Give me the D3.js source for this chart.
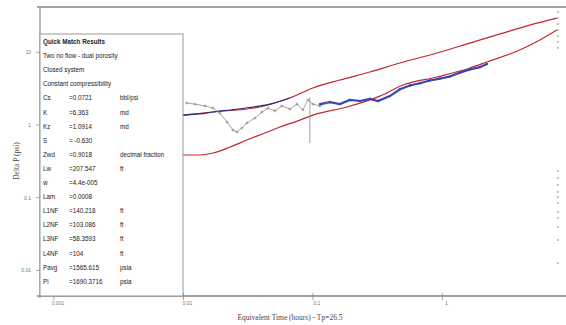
<!DOCTYPE html>
<html>
<head>
<meta charset="utf-8">
<script src="https://cdn.jsdelivr.net/npm/d3@7"></script>
<style>
  body { margin: 0; background: #fff; }
  svg { display: block; }
</style>
</head>
<body>
<svg id="chart" width="566" height="325"></svg>
<script>
// axis ticks
const xTicks = [0.001, 0.01, 0.1, 1];
const yTicks = [10, 1, 0.1, 0.01];

// pressure model (red, upper)
const pModelT = [0.0099, 0.0169, 0.039, 0.0664, 0.1, 0.1617, 0.2755, 0.47, 0.907, 1.63, 2.93, 4.74, 7.66];
const pModelP = [1.37, 1.51, 1.77, 2.35, 3.23, 4.16, 5.36, 7.13, 9.78, 13.4, 18.4, 23.7, 29.6];

// pressure data (navy, early)
const pDataT = [0.0099, 0.0134, 0.0169, 0.0229, 0.0326, 0.0466, 0.0664];
const pDataP = [1.37, 1.42, 1.51, 1.61, 1.74, 1.94, 2.35];

// derivative model (red, lower)
const dModelT = [0.0099, 0.0134, 0.0169, 0.0229, 0.0309, 0.0426, 0.0556, 0.0794, 0.1, 0.183, 0.329, 0.496, 0.907, 1.63, 2.21, 3.96, 5.66, 7.66];
const dModelP = [0.387, 0.387, 0.412, 0.498, 0.622, 0.776, 0.939, 1.17, 1.37, 1.77, 2.5, 3.55, 4.57, 6.08, 7.36, 10.75, 14.8, 20.3];

// early derivative data (gray)
const dEarlyT = [0.0106, 0.0123, 0.01466, 0.0169, 0.0191, 0.0217, 0.0241, 0.0259, 0.0283, 0.0309, 0.0357, 0.0404, 0.0449, 0.0509, 0.0576, 0.0664, 0.0752, 0.0837, 0.0915, 0.1, 0.1133, 0.128];
const dEarlyP = [2.01, 1.94, 1.83, 1.71, 1.46, 1.1, 0.854, 0.8, 0.909, 1.065, 1.248, 1.51, 1.71, 1.56, 1.83, 1.66, 1.94, 1.61, 2.21, 1.94, 1.83, 2.01];

// spike in the early data
const spikeT = [0.0948, 0.0948];
const spikeP = [2.43, 0.565];

// derivative data (blue)
const dDataT = [0.1133, 0.1353, 0.1617, 0.1931, 0.2307, 0.2755, 0.3177, 0.3933, 0.47, 0.561, 0.67, 0.8, 0.956, 1.143, 1.365, 1.63, 1.948, 2.21];
const dDataP = [1.94, 2.07, 1.94, 2.21, 2.14, 2.28, 2.14, 2.5, 3.1, 3.5, 3.75, 4.1, 4.35, 4.65, 5.25, 5.8, 6.25, 6.9];

// last points at the right edge
const endT = 7.8;
const endP = [35.8, 29.6, 24.5, 20.3, 16.8, 13.9, 11.5, 0.233, 0.187, 0.15, 0.12, 0.102, 0.0845, 0.0636, 0.0526, 0.0395, 0.0262, 0.0126];

// legend text
const legendHead = ['Two no flow - dual porosity', 'Closed system', 'Constant compressibility'];
const legendLabels = ['Cs', 'K', 'Kz', 'S', 'Zwd', 'Lw', 'w', 'Lam', 'L1NF', 'L2NF', 'L3NF', 'L4NF', 'Pavg', 'Pi'];
const legendValues = ['=0.0721', '=6.363', '=1.0914', '= -0.630', '=0.9018', '=207.547', '=4.4e-005', '=0.0008', '=140.218', '=103.086', '=58.3593', '=104', '=1565.615', '=1690.3716'];
const legendUnits = ['bbl/psi', 'md', 'md', '', 'decimal fraction', 'ft', '', '', 'ft', 'ft', 'ft', 'ft', 'psia', 'psia'];

const cfg = {
  left: 40, right: 562, top: 7, bottom: 296,
  frame: '#a3a3a3',
  red: '#c4262e',
  navy: '#2b2f7a',
  blue: '#3a45b0',
  gray: '#8c8c8c',
};

const svg = d3.select('#chart');

const x = d3.scaleLog().domain([0.00078, 8.4]).range([cfg.left, cfg.right]);
const y = d3.scaleLog().domain([0.00445, 42]).range([cfg.bottom, cfg.top]);

const zip = (ts, ps) => ts.map((t, i) => [t, ps[i]]);
const line = d3.line().x(d => x(d[0])).y(d => y(d[1]));

// frame
svg.append('line')
  .attr('x1', 37).attr('x2', 566).attr('y1', cfg.top).attr('y2', cfg.top)
  .attr('stroke', cfg.frame).attr('stroke-width', 2);
svg.append('line')
  .attr('x1', 37).attr('x2', 566).attr('y1', cfg.bottom).attr('y2', cfg.bottom)
  .attr('stroke', cfg.frame).attr('stroke-width', 2);
svg.append('line')
  .attr('x1', cfg.left).attr('x2', cfg.left).attr('y1', cfg.top).attr('y2', cfg.bottom + 2)
  .attr('stroke', cfg.frame).attr('stroke-width', 1.5);

// x ticks
const xg = svg.append('g');
xg.selectAll('line').data(xTicks).enter().append('line')
  .attr('x1', d => x(d)).attr('x2', d => x(d))
  .attr('y1', cfg.bottom - 3).attr('y2', cfg.bottom + 4)
  .attr('stroke', '#888').attr('stroke-width', 0.8);
xg.selectAll('text').data(xTicks).enter().append('text')
  .text(d => d3.format('~g')(d))
  .attr('x', d => x(d) + 4).attr('y', 305)
  .attr('text-anchor', 'middle')
  .attr('font-family', 'Liberation Sans, Arial, sans-serif')
  .attr('font-size', 5).attr('fill', '#777');

// y ticks
const yg = svg.append('g');
yg.selectAll('line').data(yTicks).enter().append('line')
  .attr('x1', cfg.left - 4).attr('x2', cfg.left)
  .attr('y1', d => y(d)).attr('y2', d => y(d))
  .attr('stroke', '#888').attr('stroke-width', 0.8);
yg.selectAll('text').data(yTicks).enter().append('text')
  .text(d => d3.format('~g')(d))
  .attr('x', 31).attr('y', d => y(d) + 2)
  .attr('text-anchor', 'end')
  .attr('font-family', 'Liberation Sans, Arial, sans-serif')
  .attr('font-size', 5).attr('fill', '#777');

// axis titles
svg.append('text')
  .text('Equivalent Time (hours) - Tp=26.5')
  .attr('x', 290).attr('y', 320)
  .attr('text-anchor', 'middle')
  .attr('font-family', 'Liberation Serif, Times New Roman, serif')
  .attr('font-size', 7.5).attr('fill', '#444');
svg.append('text')
  .text('Delta P (psi)')
  .attr('transform', 'translate(19,161) rotate(-90)')
  .attr('text-anchor', 'middle')
  .attr('font-family', 'Liberation Serif, Times New Roman, serif')
  .attr('font-size', 7.5).attr('fill', '#444');

// curves
const curves = svg.append('g').attr('fill', 'none');
curves.append('path')
  .attr('d', line.curve(d3.curveMonotoneX)(zip(dModelT, dModelP)))
  .attr('stroke', cfg.red).attr('stroke-width', 1.2);
curves.append('path')
  .attr('d', line.curve(d3.curveMonotoneX)(zip(pModelT, pModelP)))
  .attr('stroke', cfg.red).attr('stroke-width', 1.2);
curves.append('path')
  .attr('d', line.curve(d3.curveMonotoneX)(zip(pDataT, pDataP)))
  .attr('stroke', cfg.navy).attr('stroke-width', 1.2);

// early derivative (gray)
curves.append('path')
  .attr('d', line.curve(d3.curveLinear)(zip(dEarlyT, dEarlyP)))
  .attr('stroke', cfg.gray).attr('stroke-width', 0.8);
curves.append('path')
  .attr('d', line.curve(d3.curveLinear)(zip(spikeT, spikeP)))
  .attr('stroke', cfg.gray).attr('stroke-width', 0.8);
svg.append('g').selectAll('path').data(zip(dEarlyT, dEarlyP)).enter().append('path')
  .attr('d', d => `M${x(d[0]) - 1.5},${y(d[1])}h3M${x(d[0])},${y(d[1]) - 1.5}v3`)
  .attr('stroke', '#777').attr('stroke-width', 0.6);

// derivative data (blue)
curves.append('path')
  .attr('d', line.curve(d3.curveLinear)(zip(dDataT, dDataP)))
  .attr('stroke', cfg.blue).attr('stroke-width', 2.2);
svg.append('g').selectAll('circle').data(zip(dDataT, dDataP)).enter().append('circle')
  .attr('cx', d => x(d[0])).attr('cy', d => y(d[1])).attr('r', 1.2)
  .attr('fill', cfg.blue);

// end points
svg.append('g').selectAll('rect').data(endP).enter().append('rect')
  .attr('x', x(endT) - 1).attr('y', d => y(d) - 0.6)
  .attr('width', 2).attr('height', 1.2)
  .attr('fill', '#999');

// legend
const lg = svg.append('g');
lg.append('rect')
  .attr('x', cfg.left).attr('y', 34).attr('width', 143).attr('height', cfg.bottom - 34)
  .attr('fill', '#fff').attr('stroke', '#999').attr('stroke-width', 1);
const txt = (s, xx, yy, bold) => lg.append('text').text(s)
  .attr('x', xx).attr('y', yy)
  .attr('font-family', 'Liberation Sans, Arial, sans-serif')
  .attr('font-size', 6.3)
  .attr('font-weight', bold ? 'bold' : 'normal')
  .attr('fill', '#222');
const rowY = i => 44 + 14.1 * i;
txt('Quick Match Results', 43, rowY(0), true);
legendHead.forEach((s, i) => txt(s, 43, rowY(i + 1)));
legendLabels.forEach((s, i) => {
  txt(s, 43, rowY(i + 4));
  txt(legendValues[i], 69, rowY(i + 4));
  txt(legendUnits[i], 120, rowY(i + 4));
});
</script>
</body>
</html>
